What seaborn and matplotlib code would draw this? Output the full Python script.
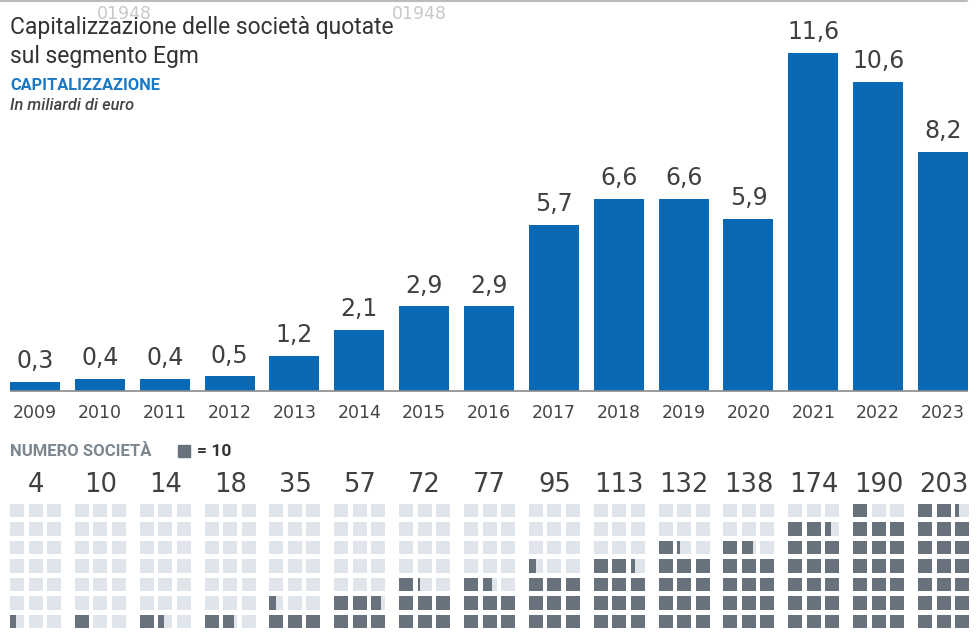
import numpy as np
import pandas as pd
import matplotlib
matplotlib.use("Agg")
import matplotlib.pyplot as plt
import matplotlib.transforms as mtransforms
import seaborn as sns

years = ["2009", "2010", "2011", "2012", "2013", "2014", "2015", "2016",
         "2017", "2018", "2019", "2020", "2021", "2022", "2023"]
cap_values = [0.3, 0.4, 0.4, 0.5, 1.2, 2.1, 2.9, 2.9, 5.7, 6.6, 6.6, 5.9, 11.6, 10.6, 8.2]
cap_labels = ["0,3", "0,4", "0,4", "0,5", "1,2", "2,1", "2,9", "2,9",
              "5,7", "6,6", "6,6", "5,9", "11,6", "10,6", "8,2"]
n_companies = [4, 10, 14, 18, 35, 57, 72, 77, 95, 113, 132, 138, 174, 190, 203]

title = "Capitalizzazione delle società quotate\nsul segmento Egm"
subtitle = "CAPITALIZZAZIONE"
unit_note = "In miliardi di euro"
waffle_title = "NUMERO SOCIETÀ"
waffle_legend = "= 10"
unit_per_cell = 10
n_cols, n_rows = 3, 7

BLUE = "#0a69b4"
DARK = "#67727c"
LIGHT = "#dfe5ea"
TEXT = "#404040"
NUMFONT = ["DejaVu Sans"]

sns.set_theme(style="white")
plt.rcParams["font.family"] = ["Roboto", "DejaVu Sans"]

W, H = 980, 641
fig = plt.figure(figsize=(W / 100, H / 100), dpi=100)
fig.patch.set_facecolor("white")

pitch = 64.86
left_px = 35 - pitch / 2
width_px = pitch * 15

def fx(px):
    return px / W

def fy(py):
    return 1 - py / H

# ---- bar chart ----
base_px = 391
unit_px = 29.14
ymax = 12.0
ax = fig.add_axes([fx(left_px), fy(base_px), width_px / W, ymax * unit_px / H])
df = pd.DataFrame({"year": years, "cap": cap_values})
sns.barplot(data=df, x="year", y="cap", color=BLUE, saturation=1, width=0.77,
            ax=ax, edgecolor="none")
ax.set_xlim(-0.5, 14.5)
ax.set_ylim(0, ymax)
for s in ax.spines.values():
    s.set_visible(False)
ax.set_yticks([])
ax.set_xlabel("")
ax.set_ylabel("")
ax.tick_params(axis="x", length=0, pad=9, labelsize=12.5, labelcolor="#444444")
for lbl in ax.get_xticklabels():
    lbl.set_family(NUMFONT)
for i, (v, lab) in enumerate(zip(cap_values, cap_labels)):
    ax.annotate(lab, (i, v), xytext=(0, 10), textcoords="offset points",
                ha="center", va="baseline", fontsize=17, color=TEXT,
                family=NUMFONT)
# baseline
ax.plot([-0.385, 14.385], [0, 0], color="#8a8a8a", lw=1.2, clip_on=False,
        solid_capstyle="butt")

# ---- waffle ----
row_px = 18.5
cell_h_px = 13.5
wax = fig.add_axes([fx(left_px), fy(628), width_px / W, n_rows * row_px / H])
wax.set_xlim(-0.5, 14.5)
wax.set_ylim(0, n_rows)
wax.axis("off")
cell_w = 14 / pitch
cell_pitch = 18.5 / pitch
cell_h = cell_h_px / row_px
blend = mtransforms.blended_transform_factory(wax.transData, fig.transFigure)
for i, n in enumerate(n_companies):
    x0 = i - 0.385
    for k in range(n_rows * n_cols):
        r, c = divmod(k, n_cols)
        xl = x0 + c * cell_pitch
        wax.bar(xl, cell_h, width=cell_w, bottom=r, align="edge",
                color=LIGHT, edgecolor="none")
        frac = min(max((n - k * unit_per_cell) / unit_per_cell, 0), 1)
        if frac > 0:
            wax.bar(xl, cell_h, width=cell_w * frac, bottom=r, align="edge",
                    color=DARK, edgecolor="none")
    wax.text(x0 + (2 * cell_pitch + cell_w) / 2, fy(492.5), str(n),
             transform=blend, ha="center", va="baseline", fontsize=18.5,
             color=TEXT, family=NUMFONT)

# ---- texts ----
fig.add_artist(plt.Line2D([0, fx(967)], [fy(1), fy(1)], color="#bbbbbb", lw=1.5))
fig.text(fx(97), fy(14), "01948", fontsize=12.5, color="#c8c8c8", va="center",
         family=NUMFONT)
fig.text(fx(392), fy(14), "01948", fontsize=12.5, color="#c8c8c8", va="center",
         family=NUMFONT)
fig.text(fx(10), fy(42), title, fontsize=16.5, color="#333333", va="center",
         linespacing=1.3)
fig.text(fx(10), fy(85), subtitle, fontsize=11.8, color="#1c78c4",
         fontweight="bold", va="center")
fig.text(fx(10), fy(106), unit_note, fontsize=11.8, color="#444444",
         style="italic", fontweight="medium", va="center")
fig.text(fx(10), fy(451), waffle_title, fontsize=12, color="#7d8790",
         fontweight="bold", va="center")
fig.patches.append(plt.Rectangle((fx(178), fy(457)), 12 / W, 12 / H,
                                 transform=fig.transFigure, color=DARK))
fig.text(fx(197), fy(451), waffle_legend, fontsize=12.5, color="#333333",
         fontweight="bold", va="center")

fig.savefig("out.png", dpi=100, facecolor="white")
